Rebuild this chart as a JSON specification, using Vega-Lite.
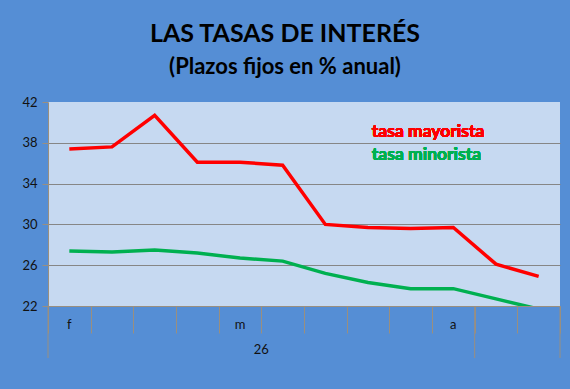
{
  "$schema": "https://vega.github.io/schema/vega-lite/v6.json",
  "width": 512,
  "height": 204,
  "autosize": {"type": "none"},
  "padding": {"left": 48, "top": 102, "right": 10, "bottom": 83},
  "background": "#558ED5",
  "config": {
    "view": {"fill": "#C6D9F1", "stroke": null},
    "font": "Lato"
  },
  "title": {
    "text": "LAS TASAS DE INTERÉS",
    "subtitle": "(Plazos fijos en % anual)",
    "anchor": "middle",
    "dx": -19,
    "font": "Lato",
    "fontSize": 25,
    "fontWeight": "bold",
    "color": "#000000",
    "subtitleFont": "Lato",
    "subtitleFontSize": 22,
    "subtitleFontWeight": "bold",
    "subtitleColor": "#000000",
    "subtitlePadding": 10,
    "offset": 18
  },
  "data": {
    "values": [
      {"idx": 1, "mes": "f", "mayorista": 37.4, "minorista": 27.4},
      {"idx": 2, "mes": "", "mayorista": 37.6, "minorista": 27.3},
      {"idx": 3, "mes": "", "mayorista": 40.7, "minorista": 27.5},
      {"idx": 4, "mes": "", "mayorista": 36.1, "minorista": 27.2},
      {"idx": 5, "mes": "m", "mayorista": 36.1, "minorista": 26.7},
      {"idx": 6, "mes": "", "mayorista": 35.8, "minorista": 26.4},
      {"idx": 7, "mes": "", "mayorista": 30.0, "minorista": 25.2},
      {"idx": 8, "mes": "", "mayorista": 29.7, "minorista": 24.3},
      {"idx": 9, "mes": "", "mayorista": 29.6, "minorista": 23.7},
      {"idx": 10, "mes": "a", "mayorista": 29.7, "minorista": 23.7},
      {"idx": 11, "mes": "", "mayorista": 26.1, "minorista": 22.7},
      {"idx": 12, "mes": "", "mayorista": 24.9, "minorista": 21.7}
    ]
  },
  "layer": [
    {
      "mark": {"type": "line", "color": "#FF0000", "strokeWidth": 3.5, "clip": true},
      "encoding": {
        "x": {
          "field": "idx", "type": "quantitative",
          "scale": {"domain": [0.5, 12.5], "nice": false, "zero": false},
          "axis": {
            "values": [0.5, 1.5, 2.5, 3.5, 4.5, 5.5, 6.5, 7.5, 8.5, 9.5, 10.5, 11.5, 12.5],
            "labels": false, "grid": false, "title": null,
            "tickSize": 27, "tickColor": "#998F80", "domainColor": "#998F80",
            "tickWidth": 1, "domainWidth": 1
          }
        },
        "y": {
          "field": "mayorista", "type": "quantitative",
          "scale": {"domain": [22, 42], "nice": false, "zero": false},
          "axis": {
            "values": [22, 26, 30, 34, 38, 42],
            "title": null,
            "tickSize": 6, "labelPadding": 5,
            "labelFont": "Lato", "labelFontSize": 13, "labelColor": "#111111",
            "tickColor": "#998F80", "domainColor": "#998F80",
            "grid": true,
            "gridColor": {"condition": {"test": "datum.value == 42 || datum.value == 22", "value": "transparent"}, "value": "#868686"},
            "gridWidth": 1
          }
        }
      }
    },
    {
      "mark": {"type": "line", "color": "#00B050", "strokeWidth": 3.5, "clip": true},
      "encoding": {
        "x": {"field": "idx", "type": "quantitative"},
        "y": {"field": "minorista", "type": "quantitative"}
      }
    },
    {
      "transform": [{"filter": "datum.mes != ''"}],
      "mark": {"type": "text", "font": "Lato", "fontSize": 13, "color": "#111111", "baseline": "alphabetic", "align": "center"},
      "encoding": {
        "x": {"field": "idx", "type": "quantitative"},
        "y": {"datum": 19.75},
        "text": {"field": "mes"}
      }
    },
    {
      "data": {"values": [{"limite": 0.5}, {"limite": 10.5}, {"limite": 12.5}]},
      "mark": {"type": "rule", "color": "#998F80", "strokeWidth": 1},
      "encoding": {
        "x": {"field": "limite", "type": "quantitative"},
        "y": {"datum": 22},
        "y2": {"datum": 16.9}
      }
    },
    {
      "data": {"values": [{"anio": "26", "centro": 5.5}]},
      "mark": {"type": "text", "font": "Lato", "fontSize": 13, "color": "#111111", "baseline": "alphabetic", "align": "center"},
      "encoding": {
        "x": {"field": "centro", "type": "quantitative"},
        "y": {"datum": 17.25},
        "text": {"field": "anio"}
      }
    },
    {
      "mark": {"type": "text", "font": "Lato", "fontSize": 17.5, "fontWeight": "bold", "color": "#FF0000", "baseline": "alphabetic", "align": "left"},
      "encoding": {
        "x": {"datum": 8.09},
        "y": {"datum": 38.6},
        "text": {"value": "tasa mayorista"}
      }
    },
    {
      "mark": {"type": "text", "font": "Lato", "fontSize": 17.5, "fontWeight": "bold", "color": "#00B050", "baseline": "alphabetic", "align": "left"},
      "encoding": {
        "x": {"datum": 8.09},
        "y": {"datum": 36.3},
        "text": {"value": "tasa minorista"}
      }
    }
  ]
}
